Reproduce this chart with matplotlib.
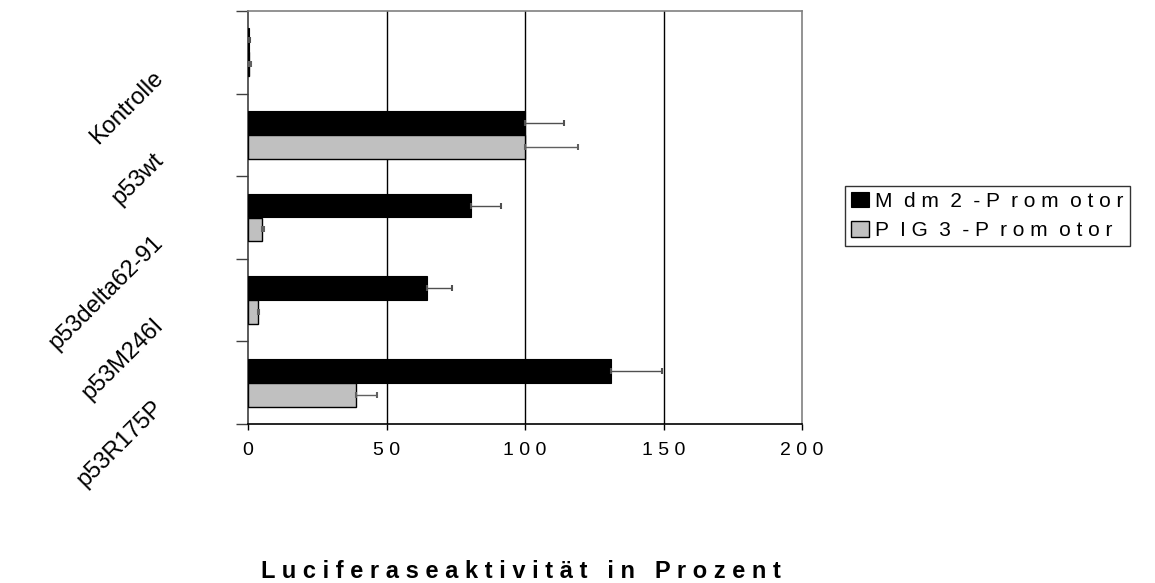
import matplotlib.pyplot as plt
from matplotlib.transforms import ScaledTranslation, blended_transform_factory

# Werte
kategorien = ["Kontrolle", "p53wt", "p53delta62-91", "p53M246I", "p53R175P"]
mdm2 = [0.2, 100, 80.5, 64.5, 131]
mdm2_fehler = [0.5, 14, 11, 9, 18.5]
pig3 = [0.3, 100, 5, 3.5, 39]
pig3_fehler = [0.8, 19, 0.8, 0.6, 7.5]
xticks = [0, 50, 100, 150, 200]
xtick_labels = ["0", "5 0", "1 0 0", "1 5 0", "2 0 0"]
legende = ["M  d m  2  - P  r o m  o t o r", "P  I G  3  - P  r o m  o t o r"]

plt.rcParams['font.family'] = ['Liberation Sans', 'DejaVu Sans']

fig = plt.figure(figsize=(11.55, 5.83), dpi=100)
ax = fig.add_axes([248/1155, 1-424/583, (802-248)/1155, (424-11)/583])

h = 0.29
pos = list(range(len(kategorien)))
pos_a = [p - h/2 for p in pos]
pos_b = [p + h/2 for p in pos]

ax.barh(pos_a, mdm2, height=h, color='black', edgecolor='black', linewidth=0.8, label=legende[0], zorder=3)
ax.barh(pos_b, pig3, height=h, color='#c0c0c0', edgecolor='black', linewidth=1, label=legende[1], zorder=3)
ax.errorbar(mdm2, pos_a, xerr=[[0]*5, mdm2_fehler], fmt='none', ecolor='#505050',
            elinewidth=1, capsize=2, capthick=1.5, zorder=4)
ax.errorbar(pig3, pos_b, xerr=[[0]*5, pig3_fehler], fmt='none', ecolor='#606060',
            elinewidth=1, capsize=2, capthick=1.5, zorder=4)

ax.set_xlim(0, 200)
ax.set_ylim(len(kategorien)-0.5, -0.5)

# Gitter nur senkrecht
for g in [50, 100, 150]:
    ax.axvline(g, color='black', linewidth=1, zorder=1)

ax.spines['top'].set_color('#808080')
ax.spines['right'].set_color('#808080')
ax.spines['left'].set_color('#404040')
ax.spines['bottom'].set_color('black')
for s in ax.spines.values():
    s.set_linewidth(1.2)

ax.set_yticks([p - 0.5 for p in range(len(kategorien)+1)])
ax.set_yticklabels([])
ax.tick_params(axis='y', direction='out', length=9, width=1, color='#404040')
ax.set_xticks(xticks)
ax.set_xticklabels(xtick_labels, fontsize=14)
ax.tick_params(axis='x', direction='out', length=4, width=1, pad=9)

# schräge Kategorienamen
trans = blended_transform_factory(ax.transAxes, ax.transData)
trans = trans + ScaledTranslation(-0.88, -0.22, fig.dpi_scale_trans)
for i, k in enumerate(kategorien):
    ax.text(0, i, k, transform=trans, rotation=45, ha='right', va='center',
            rotation_mode='anchor', fontsize=17)

fig.text(521/1155, 1-571/583, "L u c i f e r a s e a k t i v i t ä t   i n   P r o z e n t",
         ha='center', va='center', fontsize=17, fontweight='bold')

leg = fig.legend(loc='center left', bbox_to_anchor=(845/1155, 1-216/583), fontsize=15,
                 frameon=True, fancybox=False, handlelength=0.85, handleheight=0.75,
                 handletextpad=0.3, labelspacing=0.5, borderpad=0.3, borderaxespad=0)
leg.get_frame().set_edgecolor('black')
leg.get_frame().set_linewidth(1)

plt.savefig('out.png', dpi=100)
